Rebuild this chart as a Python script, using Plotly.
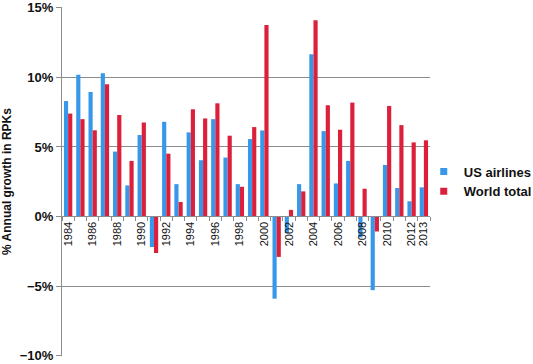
import plotly.graph_objects as go

years = [str(y) for y in range(1984, 2014)]
us_airlines = [8.3, 10.2, 8.95, 10.3, 4.67, 2.24, 5.86, -2.19, 6.81, 2.33,
               6.05, 4.05, 7.0, 4.24, 2.33, 5.57, 6.19, -5.9, -1.2, 2.33,
               11.67, 6.14, 2.38, 4.0, -1.5, -5.29, 3.71, 2.05, 1.1, 2.1]
world_total = [7.4, 7.0, 6.2, 9.5, 7.3, 4.0, 6.76, -2.62, 4.52, 1.05,
               7.71, 7.05, 8.14, 5.81, 2.14, 6.43, 13.76, -2.9, 0.48, 1.81,
               14.1, 8.0, 6.24, 8.19, 2.0, -1.07, 7.95, 6.57, 5.33, 5.48]
tick_labels = [y if (int(y) % 2 == 0 or y == "2013") else "" for y in years]
y_ticks = [-10, -5, 0, 5, 10, 15]
y_tick_text = ["\u221210%", "\u22125%", "0%", "5%", "10%", "15%"]

BLUE = "#3798ea"
RED = "#dc1f3b"
GRID = "#8c8c8c"
FONT = "Liberation Sans"

fig = go.Figure()
fig.add_trace(go.Bar(x=years, y=us_airlines, name="US airlines",
                     marker=dict(color=BLUE, line=dict(width=0)), showlegend=False))
fig.add_trace(go.Bar(x=years, y=world_total, name="World total",
                     marker=dict(color=RED, line=dict(width=0)), showlegend=False))
# legend entries with small square symbols
fig.add_trace(go.Scatter(x=[None], y=[None], mode="markers", name="US airlines",
                         marker=dict(symbol="square", size=7, color=BLUE)))
fig.add_trace(go.Scatter(x=[None], y=[None], mode="markers", name="World total",
                         marker=dict(symbol="square", size=7, color=RED)))

fig.update_layout(
    width=533, height=364,
    margin=dict(l=62, r=103, t=7, b=8, autoexpand=False),
    paper_bgcolor="white", plot_bgcolor="white",
    barmode="group", bargap=0.32, bargroupgap=0,
    font=dict(family=FONT, color="#111111"),
    legend=dict(x=0.983, xanchor="left", y=0.5, yanchor="middle",
                font=dict(size=13, family=FONT, weight="bold"),
                itemwidth=30, tracegroupgap=0, bgcolor="rgba(0,0,0,0)"),
    xaxis=dict(type="category", anchor="free", position=0.4,
               tickmode="array", tickvals=years, ticktext=tick_labels,
               tickangle=-90, tickson="boundaries",
               ticks="outside", ticklen=4, tickcolor=GRID,
               showline=True, linecolor=GRID, linewidth=1,
               showgrid=False, zeroline=False, automargin=False,
               tickfont=dict(size=11, family=FONT, color="#111111"),
               range=[-0.5, 29.5]),
    yaxis=dict(range=[-10.02, 15.06], tickmode="array", tickvals=y_ticks, ticktext=y_tick_text,
               showgrid=True, gridcolor=GRID, gridwidth=1,
               showline=True, linecolor=GRID, linewidth=1,
               ticks="outside", ticklen=5, tickcolor=GRID,
               zeroline=False, automargin=False, ticklabeloverflow="allow",
               tickfont=dict(size=13, family=FONT, weight="bold", color="#111111"),
               title=dict(text="% Annual growth in RPKs", standoff=5,
                          font=dict(size=12, family=FONT, weight="bold", color="#111111"))),
)

fig.write_html("out.html", config={"displayModeBar": False},
               post_script="document.body.style.margin='0';")
